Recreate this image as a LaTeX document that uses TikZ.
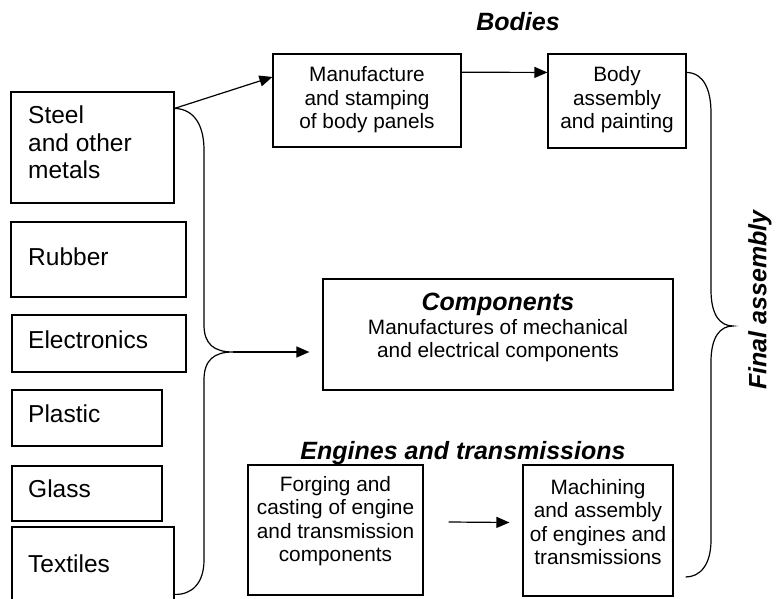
\documentclass[tikz,border=0pt]{standalone}
\usepackage{fontspec}
\setmainfont{Liberation Sans}
\usetikzlibrary{arrows.meta,calc}
\tikzset{
  box/.style={draw, line width=1.2pt, rectangle, inner sep=0pt},
  lefttxt/.style={font=\fontsize{24.5}{27.5}\selectfont, align=left, anchor=west, inner sep=0pt},
  bodytxt/.style={font=\fontsize{20.8}{23.5}\selectfont, align=center, inner sep=0pt},
  headtxt/.style={font=\fontsize{25}{27.5}\selectfont\bfseries\itshape, inner sep=0pt},
  conn/.style={line width=1.2pt, -{Triangle[length=13pt,width=11pt]}},
  brace/.style={line width=1.2pt}
}
\begin{document}
\begin{tikzpicture}[x=1pt,y=-1pt]
\useasboundingbox (0,0) rectangle (780,599);
% left column boxes
\node[box, minimum width=163, minimum height=111] (steel) at (92.5,147.5) {};
\node[box, minimum width=175, minimum height=75] (rubber) at (98.5,259.5) {};
\node[box, minimum width=174, minimum height=57] (elec) at (99,343.5) {};
\node[box, minimum width=150, minimum height=56] (plastic) at (87,418) {};
\node[box, minimum width=150, minimum height=55] (glass) at (87,493.5) {};
\node[box, minimum width=162, minimum height=80] (textiles) at (93,567) {};
\node[lefttxt] (steeltxt) at (28,142.5) {Steel\\and other\\metals};
\node[lefttxt] (rubbertxt) at (28,257) {Rubber};
\node[lefttxt] (electxt) at (28,340) {Electronics};
\node[lefttxt] (plastictxt) at (28,414) {Plastic};
\node[lefttxt] (glasstxt) at (28,489) {Glass};
\node[lefttxt] (textilestxt) at (28,564) {Textiles};
% bodies
\node[headtxt] (bodies) at (518,22) {Bodies};
\node[box, minimum width=188, minimum height=93] (manuf) at (367,100.5) {};
\node[bodytxt] (manuftxt) at (367,100) {Manufacture\\and stamping\\of body panels};
\node[box, minimum width=138, minimum height=94] (body) at (617,101) {};
\node[bodytxt] (bodytxt) at (617,100) {Body\\assembly\\and painting};
% components
\node[box, minimum width=350, minimum height=111] (comp) at (498,334.5) {};
\node[bodytxt] (comptxt) at (498,327.5) {{\fontsize{25}{27.5}\selectfont\bfseries\itshape Components}\\Manufactures of mechanical\\and electrical components};
% engines
\node[headtxt, anchor=base] (engines) at (463,459) {Engines and transmissions};
\node[box, minimum width=175, minimum height=130] (forging) at (335.5,530) {};
\node[bodytxt] (forgingtxt) at (335.5,521) {Forging and\\casting of engine\\and transmission\\components};
\node[box, minimum width=150, minimum height=131] (mach) at (598,530.5) {};
\node[bodytxt] (machtxt) at (598,522) {Machining\\and assembly\\of engines and\\transmissions};
% final assembly
\node[headtxt, rotate=90] (final) at (760,300) {Final assembly};
% connectors
\coordinate (steelout) at ($(steel.north east)+(0,17)$);
\coordinate (ltip) at (233,352);
\coordinate (ctarget) at ($(comp.west |- ltip)+(-13,0)$);
\draw[conn] (steelout) -- ($(manuf.north west)!0.25!(manuf.south west)$);
\draw[conn] ($(manuf.north east)!0.2!(manuf.south east)$) -- ($(body.north west)!0.2!(body.south west)$);
\draw[conn] (ltip) -- (ctarget);
\draw[conn] ($(forging.east)+(25,-8)$) -- ($(mach.west)+(-13,-8)$);
% left brace
\draw[brace] (steelout) .. controls (194,109) and (204,125) .. (204,150) -- (204,325)
  .. controls (204,344) and (214,352) .. (ltip)
  .. controls (214,352) and (204,360) .. (204,380) -- (204,560)
  .. controls (204,583) and (192,595) .. ($(textiles.north east)+(0,68)$);
% right brace
\coordinate (rtop) at ($(body.north east)+(0,19)$);
\coordinate (rtip) at (733,326);
\draw[brace] (rtop) .. controls (704,73) and (711,90) .. (711,113) -- (711,290)
  .. controls (711,315) and (720,326) .. (rtip)
  .. controls (720,326) and (711,337) .. (711,362) -- (711,540)
  .. controls (711,565) and (700,577) .. ($(mach.east)+(12,46.5)$);
\end{tikzpicture}
\end{document}
